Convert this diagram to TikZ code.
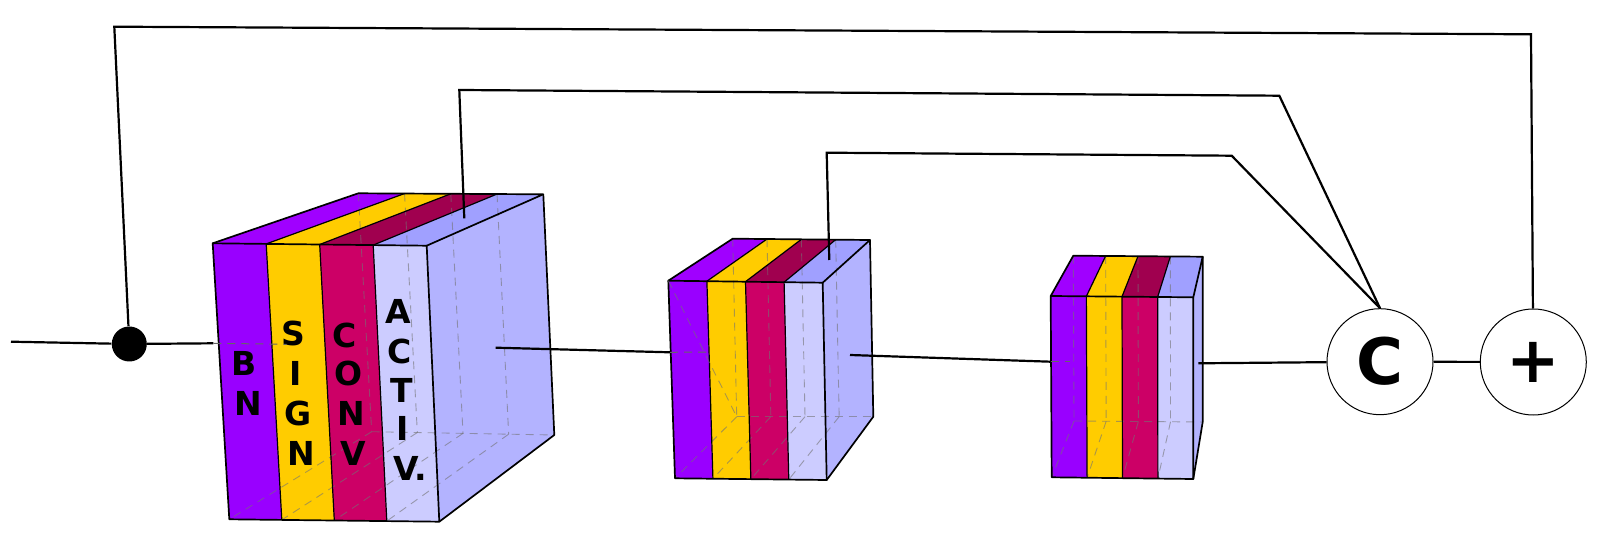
\documentclass[tikz,border=0pt]{standalone}
\usepackage{fontspec}
\newfontfamily\lblfont{DejaVu Sans}
\usetikzlibrary{calc}
\definecolor{cpurple}{HTML}{9900FF}
\definecolor{cyellow}{HTML}{FFCC00}
\definecolor{ccrimson}{HTML}{CC0066}
\definecolor{clight}{HTML}{CCCCFF}
\definecolor{tpurple}{HTML}{A000FF}
\definecolor{tyellow}{HTML}{FFCC00}
\definecolor{tcrimson}{HTML}{A0004F}
\definecolor{tlight}{HTML}{A0A0FF}
\definecolor{cside}{HTML}{B3B3FF}
\tikzset{
  cubeedge/.style={line width=0.85pt, line join=round},
  stripsep/.style={line width=0.6pt},
  hiddenline/.style={line width=0.45pt, black!55, opacity=0.6, dash pattern=on 4pt off 3pt},
  conn/.style={line width=1.1pt, line join=miter},
  innerconn/.style={line width=0.5pt, black!60, dash pattern=on 4pt off 3pt},
  lbl/.style={font=\lblfont\bfseries\fontsize{16.5}{16.5}\selectfont, inner sep=0pt},
  opnode/.style={circle, draw, line width=0.5pt, fill=white, minimum size=53pt, inner sep=0pt,
                 font=\lblfont\bfseries\fontsize{32}{32}\selectfont}
}
% #1 prefix, #2 FTL, #3 FTR, #4 FBL, #5 FBR, #6 BTL, #7 BTR, #8 BBL, #9 BBR
\newcommand\slabcube[9]{%
  \coordinate (#1ftl) at (#2); \coordinate (#1ftr) at (#3);
  \coordinate (#1fbl) at (#4); \coordinate (#1fbr) at (#5);
  \coordinate (#1btl) at (#6); \coordinate (#1btr) at (#7);
  \coordinate (#1bbl) at (#8); \coordinate (#1bbr) at (#9);
  \foreach \i in {0,...,4}{
    \coordinate (#1ft\i) at ($(#1ftl)!\i/4!(#1ftr)$);
    \coordinate (#1fb\i) at ($(#1fbl)!\i/4!(#1fbr)$);
    \coordinate (#1bt\i) at ($(#1btl)!\i/4!(#1btr)$);
    \coordinate (#1bb\i) at ($(#1bbl)!\i/4!(#1bbr)$);
  }
  \foreach \i/\j/\fc/\tc in {0/1/cpurple/tpurple,1/2/cyellow/tyellow,2/3/ccrimson/tcrimson,3/4/clight/tlight}{
    \fill[\fc] (#1ft\i) -- (#1ft\j) -- (#1fb\j) -- (#1fb\i) -- cycle;
    \fill[\tc] (#1ft\i) -- (#1ft\j) -- (#1bt\j) -- (#1bt\i) -- cycle;
  }
  \fill[cside] (#1ft4) -- (#1bt4) -- (#1bb4) -- (#1fb4) -- cycle;
  \foreach \i in {0,...,3}{
    \draw[hiddenline] (#1bt\i) -- (#1bb\i);
    \draw[hiddenline] (#1bb\i) -- (#1fb\i);
  }
  \draw[hiddenline] (#1bb0) -- (#1bb4);
  \foreach \i in {1,2,3}{
    \draw[stripsep] (#1ft\i) -- (#1fb\i);
    \draw[stripsep] (#1ft\i) -- (#1bt\i);
  }
  \draw[cubeedge] (#1ft0) -- (#1ft4) -- (#1fb4) -- (#1fb0) -- cycle;
  \draw[cubeedge] (#1ft0) -- (#1bt0) -- (#1bt4) -- (#1ft4);
  \draw[cubeedge] (#1bt4) -- (#1bb4) -- (#1fb4);
}
\begin{document}
\begin{tikzpicture}[x=0.5pt, y=-0.5pt]
\useasboundingbox (0,0) rectangle (1624,534);

% cubes
\slabcube{a}{212.7,243.3}{426.7,245.7}{229.3,519.3}{439.3,521.7}{358.3,193.3}{543.3,194.3}{371.7,431.7}{554.3,435}
\slabcube{b}{668.3,280.7}{822.7,282.7}{675,478.3}{826.7,480}{732.7,238.7}{870,240}{736.7,416.7}{873.3,416.7}
\draw[hiddenline] (bftl) -- (bbbl);
\slabcube{c}{1050.7,296}{1193.3,297.3}{1051.7,477.3}{1193.3,479}{1073.3,255.7}{1202.7,256.7}{1074,421}{1202.7,422}

% labels
\foreach \n/\l/\x/\y in {1/B/244.3/363.3, 2/N/248.3/403.3}
  \node[lbl] (bn\n) at (\x,\y) {\l};
\foreach \n/\l/\x/\y in {1/S/293.3/333.3, 2/I/295.5/373.3, 3/G/298.3/413.3, 4/N/301.7/453.3}
  \node[lbl] (sign\n) at (\x,\y) {\l};
\foreach \n/\l/\x/\y in {1/C/345/335, 2/O/348.3/373.3, 3/N/351.7/413.3, 4/V/353.3/453.3}
  \node[lbl] (conv\n) at (\x,\y) {\l};
\foreach \n/\l/\x/\y in {1/A/398.3/311.7, 2/C/400/351.7, 3/T/401.7/390, 4/I/403/428.3}
  \node[lbl] (activ\n) at (\x,\y) {\l};
\node[lbl] (activ5) at (410,468.3) {V.};

% operator nodes
\node[opnode] (cnode) at (1380,361.7) {C};
\node[opnode] (pnode) at (1533.3,362) {+};
\node[circle, fill=black, minimum size=17.5pt, inner sep=0pt] (dot) at (129.3,344) {};

% coordinates
\coordinate (src) at (11,341.7);
\coordinate (e1) at (213.3,343.3);
\coordinate (e1b) at (286.7,344.3);
\coordinate (o1) at (495.7,347.7);
\coordinate (e2) at (670,352.3);
\coordinate (e2b) at (706.7,352);
\coordinate (o2) at (850,355);
\coordinate (e3) at (1050.5,361.7);
\coordinate (e3b) at (1070,361.7);
\coordinate (o3) at (1198.3,363.3);
\coordinate (k1) at (114.3,26.7);
\coordinate (k2) at (1531,34.3);
\coordinate (t1) at (464.3,218.3);
\coordinate (k3) at (459.3,90);
\coordinate (k4) at (1279.3,95.7);
\coordinate (t2) at (829.3,260);
\coordinate (k5) at (826.7,152.7);
\coordinate (k6) at (1231.7,155.7);

% connectors
\draw[conn] (src) -- (dot);
\draw[conn] (dot) -- (e1);
\draw[innerconn] (e1) -- (e1b);
\draw[conn] (o1) -- (e2);
\draw[innerconn] (e2) -- (e2b);
\draw[conn] (o2) -- (e3);
\draw[innerconn] (e3) -- (e3b);
\draw[conn] (o3) -- (cnode);
\draw[conn] (cnode) -- (pnode);
\draw[conn] (dot) -- (k1) -- (k2) -- (pnode);
\draw[conn] (t1) -- (k3) -- (k4) -- (cnode.north);
\draw[conn] (t2) -- (k5) -- (k6) -- (cnode.north);
\end{tikzpicture}
\end{document}
